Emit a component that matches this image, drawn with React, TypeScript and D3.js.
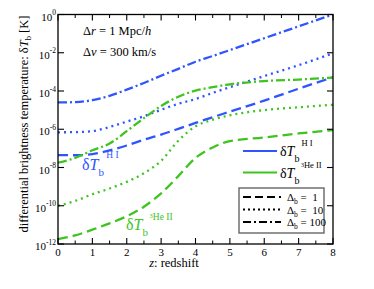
import React from 'react';
import * as d3 from 'd3';

// redshift grid
const zs = [0, 0.5, 1, 1.5, 2, 2.5, 3, 3.5, 4, 4.5, 5, 6, 7, 8];

// log10 of dT_b [K]
const hiDelta1 = [-7.35, -7.36, -7.3, -7.1, -6.85, -6.55, -6.28, -5.98, -5.67, -5.37, -5.08, -4.5, -3.88, -3.28];
const hiDelta10 = [-6.16, -6.15, -6.1, -5.88, -5.6, -5.32, -4.98, -4.67, -4.42, -4.1, -3.8, -3.22, -2.65, -2.03];
const hiDelta100 = [-4.6, -4.58, -4.48, -4.25, -3.93, -3.58, -3.2, -2.84, -2.47, -2.17, -1.86, -1.24, -0.62, 0];
const heDelta1 = [-11.75, -11.55, -11.25, -10.92, -10.55, -10.05, -9.35, -8.45, -7.5, -6.95, -6.62, -6.43, -6.22, -6.04];
const heDelta10 = [-10.0, -9.75, -9.4, -9.1, -8.75, -8.3, -7.65, -6.6, -5.85, -5.5, -5.27, -5.0, -4.85, -4.72];
const heDelta100 = [-7.75, -7.5, -7.1, -6.75, -6.1, -5.42, -4.78, -4.3, -3.98, -3.8, -3.65, -3.48, -3.4, -3.3];

const xTicks = [0, 1, 2, 3, 4, 5, 6, 7, 8];
const yTickExps = [0, -2, -4, -6, -8, -10, -12];

const BLUE = '#2f55ff';
const GREEN = '#3ec41e';
const DASH = '10,5';
const DOT = '2,4';
const DASHDOT = '9,3,2,3';

const serif = '"Liberation Serif", "DejaVu Serif", serif';

const App: React.FC = () => {
  const width = 374;
  const height = 289;
  const left = 58, right = 333, top = 14.5, bottom = 244;

  const x = d3.scaleLinear().domain([0, 8]).range([left, right]);
  const y = d3.scaleLinear().domain([-12, 0]).range([bottom, top]);

  const line = d3.line<number>()
    .x((_, i) => x(zs[i]))
    .y((d) => y(d))
    .curve(d3.curveMonotoneX);

  const series = [
    { v: hiDelta1, c: BLUE, dash: DASH },
    { v: hiDelta10, c: BLUE, dash: DOT },
    { v: hiDelta100, c: BLUE, dash: DASHDOT },
    { v: heDelta1, c: GREEN, dash: DASH },
    { v: heDelta10, c: GREEN, dash: DOT },
    { v: heDelta100, c: GREEN, dash: DASHDOT },
  ];

  const minor = d3.range(0.5, 8, 1);

  return (
    <svg width={width} height={height} style={{ position: 'absolute', left: 0, top: 0, background: '#fff' }}
      fontFamily={serif}>
      <defs>
        <clipPath id="plot">
          <rect x={left} y={top} width={right - left} height={bottom - top} />
        </clipPath>
      </defs>

      {/* curves */}
      <g clipPath="url(#plot)">
        {series.map((s, i) => (
          <path key={i} d={line(s.v) || ''} fill="none" stroke={s.c} strokeWidth={2.3}
            strokeDasharray={s.dash} strokeLinecap="butt" />
        ))}
      </g>

      {/* frame */}
      <rect x={left} y={top} width={right - left} height={bottom - top} fill="none" stroke="#000" strokeWidth={1.3} />

      {/* x ticks */}
      {xTicks.map((t) => (
        <g key={'x' + t}>
          <line x1={x(t)} x2={x(t)} y1={bottom} y2={bottom - 6} stroke="#000" strokeWidth={1.1} />
          <line x1={x(t)} x2={x(t)} y1={top} y2={top + 6} stroke="#000" strokeWidth={1.1} />
          <text x={x(t)} y={255.5} fontSize={11} textAnchor="middle">{t}</text>
        </g>
      ))}
      {minor.map((t) => (
        <g key={'m' + t}>
          <line x1={x(t)} x2={x(t)} y1={bottom} y2={bottom - 3.5} stroke="#000" strokeWidth={1} />
          <line x1={x(t)} x2={x(t)} y1={top} y2={top + 3.5} stroke="#000" strokeWidth={1} />
        </g>
      ))}

      {/* y ticks */}
      {yTickExps.map((e) => (
        <g key={'y' + e}>
          <line x1={left} x2={left + 6} y1={y(e)} y2={y(e)} stroke="#000" strokeWidth={1.1} />
          <line x1={right} x2={right - 6} y1={y(e)} y2={y(e)} stroke="#000" strokeWidth={1.1} />
          <text x={56} y={y(e) + 6} fontSize={11} textAnchor="end">
            10<tspan fontSize={7.5} dy={-5.5}>{e}</tspan>
          </text>
        </g>
      ))}

      {/* axis titles */}
      <text x={174} y={267} fontSize={12.5} textAnchor="middle">
        <tspan fontStyle="italic">z</tspan>: redshift
      </text>
      <text transform={`translate(28,${124}) rotate(-90)`} fontSize={12.5} textAnchor="middle">
        differential brightness temperature: δ<tspan fontStyle="italic">T</tspan>
        <tspan fontSize={8.5} dy={3}>b</tspan><tspan dy={-3}> [K]</tspan>
      </text>

      {/* parameters */}
      <text x={83} y={35} fontSize={12.5}>Δ<tspan fontStyle="italic">r</tspan> = 1 Mpc/<tspan fontStyle="italic">h</tspan></text>
      <text x={83} y={56} fontSize={12.5}>Δ<tspan fontStyle="italic">v</tspan> = 300 km/s</text>

      {/* curve labels */}
      <text x={82} y={170} fontSize={16} fill={BLUE}>
        δ<tspan fontStyle="italic">T</tspan><tspan fontSize={11} dy={6}>b</tspan>
        <tspan fontSize={9.5} dy={-18}> H I</tspan>
      </text>
      <text x={126} y={230} fontSize={16} fill={GREEN}>
        δ<tspan fontStyle="italic">T</tspan><tspan fontSize={11} dy={6}>b</tspan>
        <tspan fontSize={6.5} dy={-18}> 3</tspan><tspan fontSize={9.5} dy={2}>He II</tspan>
      </text>

      {/* species legend */}
      <line x1={243} x2={277} y1={151} y2={151} stroke={BLUE} strokeWidth={1.8} />
      <text x={280} y={156} fontSize={14}>
        δ<tspan fontStyle="italic">T</tspan><tspan fontSize={10} dy={6}>b</tspan>
        <tspan fontSize={8.5} dy={-16}> H I</tspan>
      </text>
      <line x1={243} x2={277} y1={172.5} y2={172.5} stroke={GREEN} strokeWidth={1.8} />
      <text x={280} y={177.5} fontSize={14}>
        δ<tspan fontStyle="italic">T</tspan><tspan fontSize={10} dy={6}>b</tspan>
        <tspan fontSize={6} dy={-17}> 3</tspan><tspan fontSize={8.5} dy={1}>He II</tspan>
      </text>

      {/* line style legend */}
      <rect x={239} y={188} width={85} height={45} fill="#fff" stroke="#666" strokeWidth={1.4} />
      {[
        { dash: '8,4', label: '  1', yy: 197 },
        { dash: '2,3', label: '  10', yy: 209.5 },
        { dash: '8,3,2,3', label: ' 100', yy: 222 },
      ].map((r) => (
        <g key={r.yy}>
          <line x1={243} x2={281} y1={r.yy} y2={r.yy} stroke="#000" strokeWidth={2} strokeDasharray={r.dash} />
          <text x={287} y={r.yy + 4} fontSize={11} style={{ whiteSpace: 'pre' }}>
            Δ<tspan fontSize={7.5} dy={3}>b</tspan><tspan dy={-3}>{' =' + r.label}</tspan>
          </text>
        </g>
      ))}
    </svg>
  );
};

export default App;
